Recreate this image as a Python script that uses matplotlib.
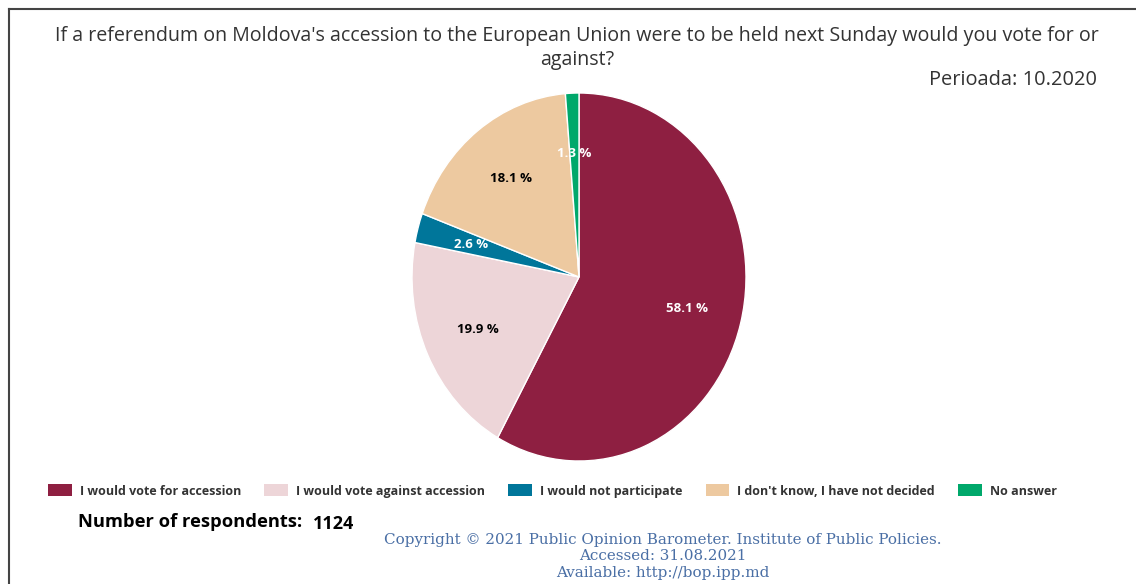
import matplotlib
matplotlib.use("Agg")
import matplotlib.pyplot as plt
from matplotlib.patches import Patch
from matplotlib.lines import Line2D

categories = ["I would vote for accession", "I would vote against accession",
              "I would not participate", "I don't know, I have not decided", "No answer"]
values = [58.1, 19.9, 2.6, 18.1, 1.3]
colors = ["#8E1F41", "#EDD5D8", "#00769A", "#EDC9A0", "#00A86B"]
label_colors = ["white", "black", "white", "black", "white"]
title = "If a referendum on Moldova's accession to the European Union were to be held next Sunday would you vote for or\nagainst?"
period = "Perioada: 10.2020"
respondents = 1124

W, H = 1136, 584
fig = plt.figure(figsize=(W / 100, H / 100), dpi=100)
plt.rcParams['font.family'] = ['Open Sans', 'DejaVu Sans']

def fx(px):
    return px / W

def fy(py):
    return 1 - py / H

# frame lines
fig.add_artist(Line2D([fx(9), fx(9)], [fy(9), 0], color="#444444", lw=1.5))
fig.add_artist(Line2D([fx(9), 1], [fy(9), fy(9)], color="#444444", lw=1.5))

# pie axes (slightly elliptical as in reference)
cx, cy, rx, ry = 579, 277, 167, 184
ax = fig.add_axes([fx(cx - rx), fy(cy + ry), 2 * rx / W, 2 * ry / H])
wedges, texts, autotexts = ax.pie(values, colors=colors, startangle=90, counterclock=False,
                                  autopct=lambda p: f"{p:.1f} %", pctdistance=0.67,
                                  wedgeprops=dict(edgecolor="white", linewidth=1),
                                  textprops=dict(fontsize=9.5, fontweight="bold"))
for t, c in zip(autotexts, label_colors):
    t.set_color(c)
ax.set_aspect("auto")
ax.set_xlim(-1, 1)
ax.set_ylim(-1, 1)
ax.axis("off")

# title
fig.text(fx(577), fy(36), title.split("\n")[0], ha="center", va="center", fontsize=14.1, color="#333333")
fig.text(fx(577), fy(60), title.split("\n")[1], ha="center", va="center", fontsize=14.1, color="#333333")
fig.text(fx(1097), fy(80), period, ha="right", va="center", fontsize=14.4, color="#333333")

# legend
handles = [Patch(facecolor=c, edgecolor="none") for c in colors]
fig.legend(handles, categories, loc="center", bbox_to_anchor=(fx(552.5), fy(491)), ncol=5,
           frameon=False, handlelength=1.9, handleheight=1.1, handletextpad=0.64,
           columnspacing=1.85, prop=dict(size=9, weight="bold"), labelcolor="#333333")

# respondents
fig.text(fx(78), fy(522), "Number of respondents:", ha="left", va="center", fontsize=13.2,
         fontweight="bold", color="black")
fig.text(fx(313), fy(524), str(respondents), ha="left", va="center", fontsize=13,
         fontweight="bold", color="black")

# copyright
cr = ["Copyright © 2021 Public Opinion Barometer. Institute of Public Policies.",
      "Accessed: 31.08.2021", "Available: http://bop.ipp.md"]
for i, line in enumerate(cr):
    fig.text(fx(663), fy(540 + 16.5 * i), line, ha="center", va="center", fontsize=10.9,
             family=["DejaVu Serif"], color="#4A6FA5")

fig.savefig("out.png", dpi=100)
